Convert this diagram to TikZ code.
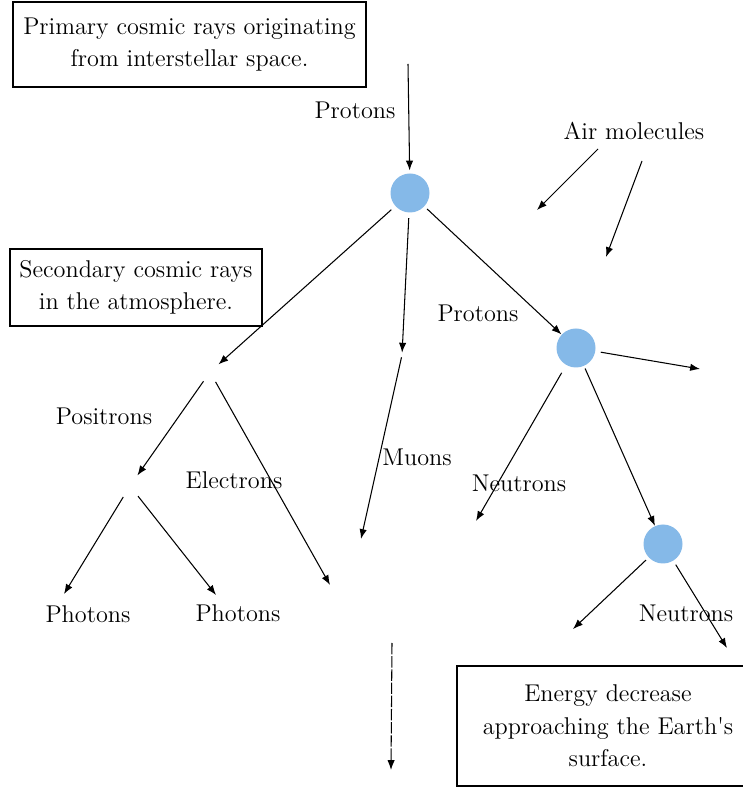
\documentclass[tikz,border=0pt]{standalone}
\usepackage{amsmath}
\usepackage{xcolor}
\usepackage{tikz}
\usetikzlibrary{arrows.meta}

\definecolor{blobblue}{RGB}{133,185,232}

\begin{document}
\begin{tikzpicture}[>={Latex[length=5.6pt,width=4.2pt]},
                blob/.style={circle, fill=blobblue, minimum size=0.78cm, inner sep=0pt},
                junc/.style={circle, inner sep=0pt},
                note/.style={draw, line width=0.8pt, align=center, inner sep=0pt},
                ray/.style={->, line width=0.6pt},
                lbl/.style={font=\fontsize{13.8}{18.5}\selectfont}]
                \useasboundingbox (0,0) rectangle (14.86,15.78);
                \node [note, lbl, minimum width=7.06cm, minimum height=1.7cm] (primary) at (3.79,14.89) {Primary cosmic rays originating\\from interstellar space.};
                \node [note, lbl, minimum width=5.04cm, minimum height=1.54cm] (secondary) at (2.72,10.03) {Secondary cosmic rays\\in the atmosphere.};
                \node [note, lbl, minimum width=6.04cm, minimum height=2.4cm] (energy) at (12.16,1.26) {Energy decrease\\approaching the Earth\textquotesingle s\\surface.};
                \node [blob] (hit1) at (8.2,11.92) {};
                \node [blob] (hit2) at (11.52,8.82) {};
                \node [blob] (hit3) at (13.26,4.9) {};
                \node [junc, minimum size=0.44cm] (pair) at (4.2,8.34) {};
                \node [junc, minimum size=0.08cm] (mu) at (8.04,8.68) {};
                \node [junc, minimum size=0.5cm] (gam) at (2.6,6.06) {};
                \coordinate (space) at (8.16,14.5);
                \coordinate (airAs) at (11.96,12.8);
                \coordinate (airAe) at (10.74,11.58);
                \coordinate (airBs) at (12.84,12.56);
                \coordinate (airBe) at (12.12,10.64);
                \coordinate (pout) at (14.0,8.4);
                \coordinate (eend) at (6.6,4.08);
                \coordinate (muend) at (7.22,5.0);
                \coordinate (nend) at (9.52,5.36);
                \coordinate (n3l) at (11.46,3.2);
                \coordinate (n3r) at (14.54,2.82);
                \coordinate (phl) at (1.28,3.9);
                \coordinate (phr) at (4.32,3.88);
                \coordinate (downs) at (7.84,2.92);
                \coordinate (downe) at (7.82,0.38);
                \node [lbl] (lprot1) at (7.1,13.58) {Protons};
                \node [lbl] (lair) at (12.68,13.16) {Air molecules};
                \node [lbl] (lprot2) at (9.56,9.52) {Protons};
                \node [lbl] (lpos) at (2.08,7.46) {Positrons};
                \node [lbl] (lel) at (4.68,6.18) {Electrons};
                \node [lbl] (lmu) at (8.34,6.64) {Muons};
                \node [lbl] (lneu1) at (10.38,6.12) {Neutrons};
                \node [lbl] (lneu2) at (13.72,3.52) {Neutrons};
                \node [lbl] (lph1) at (1.76,3.5) {Photons};
                \node [lbl] (lph2) at (4.76,3.52) {Photons};
                \draw [ray, shorten >=1.5pt] (space) -- (hit1);
                \draw [ray] (airAs) -- (airAe);
                \draw [ray] (airBs) -- (airBe);
                \draw [ray, shorten <=3pt] (hit1) -- (pair);
                \draw [ray, shorten <=3pt] (hit1) -- (mu);
                \draw [ray, shorten <=2pt] (hit1) -- (hit2);
                \draw [ray, shorten <=3pt] (hit2) -- (pout);
                \draw [ray, shorten <=5pt] (hit2) -- (nend);
                \draw [ray, shorten <=1.5pt] (hit2) -- (hit3);
                \draw [ray, shorten <=2pt] (hit3) -- (n3l);
                \draw [ray, shorten <=2.5pt] (hit3) -- (n3r);
                \draw [ray] (pair) -- (gam);
                \draw [ray] (pair) -- (eend);
                \draw [ray] (mu) -- (muend);
                \draw [ray] (gam) -- (phl);
                \draw [ray] (gam) -- (phr);
                \draw [ray, dash pattern=on 6.5pt off 1pt] (downs) -- (downe);
            \end{tikzpicture}
\end{document}
